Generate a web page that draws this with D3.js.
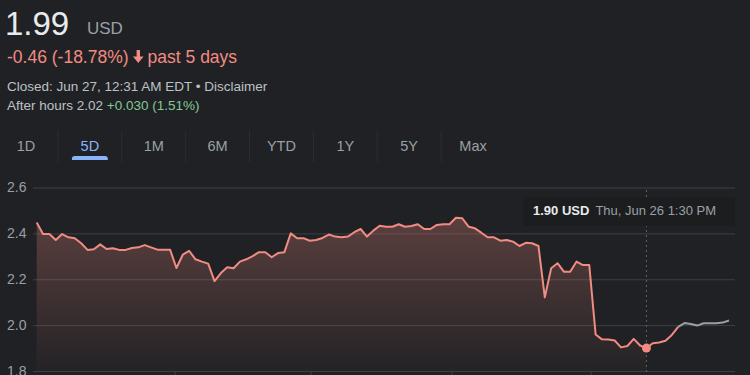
<!DOCTYPE html>
<html>
<head>
<meta charset='UTF-8'>
<title>5D price chart</title>
<script src='https://cdn.jsdelivr.net/npm/d3@7/dist/d3.min.js'></script>
<style>
  html, body {margin:0; padding:0; background:#202124;}
  svg {display:block; font-family:'Liberation Sans', Arial, sans-serif;}
</style>
</head>
<body>
<div id='chart'></div>
<script>
/* Data (30-ish min steps across 5 days + after hours) */
var prices = [
  2.447, 2.397, 2.397, 2.371, 2.397, 2.383, 2.379, 2.357, 2.328, 2.331, 2.352,
  2.332, 2.335, 2.328, 2.328, 2.336, 2.339, 2.349, 2.339, 2.329, 2.329, 2.329,
  2.249, 2.307, 2.324, 2.287, 2.277, 2.268, 2.192, 2.227, 2.252, 2.248, 2.277,
  2.287, 2.301, 2.318, 2.318, 2.296, 2.314, 2.318, 2.400, 2.379, 2.379, 2.368,
  2.371, 2.380, 2.395,
  2.386, 2.383, 2.386, 2.405, 2.419, 2.386, 2.412, 2.433, 2.429, 2.429, 2.440,
  2.429, 2.432, 2.440, 2.419, 2.419, 2.437, 2.440, 2.440, 2.468, 2.466, 2.429,
  2.422, 2.403, 2.383, 2.383, 2.368, 2.371, 2.364, 2.345, 2.359, 2.357, 2.345,
  2.121, 2.248, 2.270, 2.233, 2.233, 2.277, 2.262, 2.262,
  1.959, 1.938, 1.937, 1.933, 1.903, 1.909, 1.940, 1.911, 1.900, 1.921, 1.924,
  1.932, 1.957, 1.992, 2.009, 2.005, 1.998, 2.008, 2.008, 2.008, 2.011, 2.020
];
var afterHoursStart = 101;   // index where the grey after-hours line starts
var hoverIndex = 96;         // point under the tooltip
var dayBreaks = [21.8, 43.2, 65.4, 87.3];
var yTicks = [1.8, 2.0, 2.2, 2.4, 2.6];
var tabs = ['1D', '5D', '1M', '6M', 'YTD', '1Y', '5Y', 'Max'];
var activeTab = '5D';

var width = 750, height = 375;
var red = '#f28b82', grey = '#9aa0a6', grid = '#3c4043';

var svg = d3.select('#chart').append('svg')
  .attr('width', width)
  .attr('height', height);

/* Header */
var head = svg.append('g');
head.append('text')
  .attr('x', 5).attr('y', 35)
  .attr('fill', '#e8eaed')
  .style('font-size', '33px')
  .text('1.99');
head.append('text')
  .attr('x', 87).attr('y', 34)
  .attr('fill', grey)
  .style('font-size', '17px')
  .text('USD');

var chg = head.append('text')
  .attr('x', 7).attr('y', 63)
  .attr('fill', red)
  .style('font-size', '17.5px')
  .text('-0.46 (-18.78%)');
var ax = 7 + chg.node().getComputedTextLength() + 4;
// down arrow icon
head.append('path')
  .attr('d', `M${ax + 4},50 h3.4 v6.5 h3.6 l-5.3,6.5 l-5.3,-6.5 h3.6 z`)
  .attr('fill', red);
head.append('text')
  .attr('x', ax + 15).attr('y', 63)
  .attr('fill', red)
  .style('font-size', '17.5px')
  .text('past 5 days');

head.append('text')
  .attr('x', 7).attr('y', 91)
  .attr('fill', '#bdc1c6')
  .style('font-size', '13.5px')
  .text('Closed: Jun 27, 12:31 AM EDT \u2022 Disclaimer');

var ah = head.append('text')
  .attr('x', 7).attr('y', 110)
  .attr('fill', '#bdc1c6')
  .style('font-size', '13.5px');
ah.append('tspan').text('After hours 2.02 ');
ah.append('tspan').attr('fill', '#81c995').text('+0.030 (1.51%)');

/* Range tabs */
var tabX = d3.scalePoint().domain(tabs).range([26, 473]);
var tabG = svg.append('g');
tabG.selectAll('text')
  .data(tabs).enter()
  .append('text')
  .attr('x', d => tabX(d))
  .attr('y', 151)
  .attr('text-anchor', 'middle')
  .style('font-size', '14.5px')
  .attr('fill', d => d == activeTab ? '#8ab4f8' : grey)
  .text(d => d);
tabG.selectAll('line')
  .data(tabs.slice(1)).enter()
  .append('line')
  .attr('x1', d => tabX(d) - tabX.step() / 2)
  .attr('x2', d => tabX(d) - tabX.step() / 2)
  .attr('y1', 131).attr('y2', 162)
  .attr('stroke', '#2c2d30');
tabG.append('rect')
  .attr('x', tabX(activeTab) - 18)
  .attr('y', 156)
  .attr('width', 36).attr('height', 6)
  .attr('rx', 3)
  .attr('fill', '#8ab4f8');
tabG.append('rect')
  .attr('x', tabX(activeTab) - 19)
  .attr('y', 160)
  .attr('width', 38).attr('height', 4)
  .attr('fill', '#202124');

/* Scales */
var x = d3.scaleLinear().domain([0, prices.length - 1]).range([36.7, 729]);
var y = d3.scaleLinear().domain([1.8, 2.6]).range([371, 187.5]);

/* Grid + y labels */
var yAxis = d3.axisLeft(y).tickValues(yTicks).tickFormat(d3.format('.1f'))
  .tickSize(-(735 - 33)).tickPadding(0);
svg.append('g')
  .attr('transform', 'translate(33,0)')
  .call(yAxis)
  .call(g => g.select('.domain').remove())
  .call(g => g.selectAll('line').attr('stroke', grid))
  .call(g => g.selectAll('text')
    .attr('x', -26).attr('text-anchor', 'start')
    .attr('fill', grey).style('font-size', '14px')
    .style('font-family', "'Liberation Sans', Arial, sans-serif"));

/* Day separators on the baseline */
svg.append('g').selectAll('line')
  .data(dayBreaks).enter()
  .append('line')
  .attr('x1', d => x(d)).attr('x2', d => x(d))
  .attr('y1', y(1.8)).attr('y2', y(1.8) + 6)
  .attr('stroke', grid);

/* Area fill up to hovered point */
var defs = svg.append('defs');
var grad = defs.append('linearGradient')
  .attr('id', 'fade')
  .attr('gradientUnits', 'userSpaceOnUse')
  .attr('x1', 0).attr('x2', 0)
  .attr('y1', y(2.47)).attr('y2', y(1.8));
grad.append('stop').attr('offset', '0%').attr('stop-color', red).attr('stop-opacity', 0.28);
grad.append('stop').attr('offset', '100%').attr('stop-color', red).attr('stop-opacity', 0.02);

var pts = prices.map((v, i) => ({i: i, v: v}));
var area = d3.area()
  .x(d => x(d.i))
  .y0(y(1.8))
  .y1(d => y(d.v));
svg.append('path')
  .datum(pts.slice(0, hoverIndex + 1))
  .attr('d', area)
  .attr('fill', 'url(#fade)');

/* Lines */
var line = d3.line().x(d => x(d.i)).y(d => y(d.v));
svg.append('path')
  .datum(pts.slice(afterHoursStart))
  .attr('d', line)
  .attr('fill', 'none')
  .attr('stroke', grey)
  .attr('stroke-width', 2)
  .attr('stroke-linejoin', 'round');
svg.append('path')
  .datum(pts.slice(0, afterHoursStart + 1))
  .attr('d', line)
  .attr('fill', 'none')
  .attr('stroke', red)
  .attr('stroke-width', 2)
  .attr('stroke-linejoin', 'round');

/* Hover marker + tooltip */
var hp = pts[hoverIndex];
svg.append('line')
  .attr('x1', x(hp.i)).attr('x2', x(hp.i))
  .attr('y1', 190).attr('y2', height)
  .attr('stroke', '#5f6368')
  .attr('stroke-dasharray', '2,3');
svg.append('circle')
  .attr('cx', x(hp.i)).attr('cy', y(hp.v))
  .attr('r', 4.5)
  .attr('fill', red);

var tip = svg.append('g');
tip.append('rect')
  .attr('x', 523).attr('y', 197)
  .attr('width', 212).attr('height', 29)
  .attr('fill', '#1c1d1f');
var tt = tip.append('text')
  .attr('x', 533).attr('y', 215)
  .style('font-size', '13px');
tt.append('tspan').attr('fill', '#e8eaed').style('font-weight', 'bold')
  .text(d3.format('.2f')(hp.v) + ' USD');
tt.append('tspan').attr('fill', grey).attr('dx', 6)
  .text('Thu, Jun 26 1:30 PM');
</script>
</body>
</html>
